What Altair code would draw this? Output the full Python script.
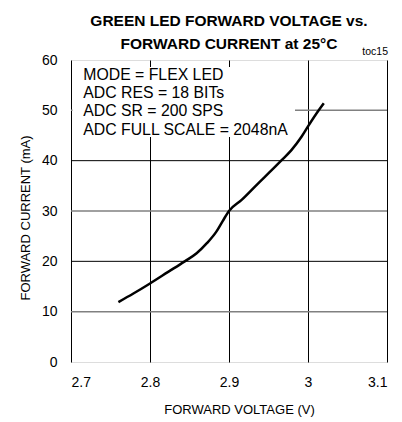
import altair as alt
import pandas as pd

# ---- data ----
voltage = [2.760, 2.779, 2.800, 2.823, 2.844, 2.859, 2.872, 2.884, 2.892, 2.900,
           2.916, 2.937, 2.954, 2.966, 2.979, 2.992, 3.000, 3.014, 3.020]
current = [11.9, 13.6, 15.6, 17.9, 20.0, 21.6, 23.6, 25.9, 28.0, 30.0,
           32.2, 35.5, 38.1, 40.0, 42.1, 44.8, 46.8, 50.1, 51.4]
x_ticks = [2.7, 2.8, 2.9, 3.0, 3.1]
y_ticks = [0, 10, 20, 30, 40, 50, 60]
grid_black_y = [20, 40]
grid_gray_y = [10, 30, 50]
note_lines = ["MODE = FLEX LED", "ADC RES = 18 BITs", "ADC SR = 200 SPS",
              "ADC FULL SCALE = 2048nA"]
title_lines = ["GREEN LED FORWARD VOLTAGE vs.", "FORWARD CURRENT at 25°C"]
tag = "toc15"
x_title = "FORWARD VOLTAGE (V)"
y_title = "FORWARD CURRENT (mA)"

FONT = "Liberation Sans"

curve_df = pd.DataFrame({"V": voltage, "I": current})
xs = alt.Scale(domain=[2.7, 3.1], nice=False, zero=False)
ys = alt.Scale(domain=[0, 60], nice=False, zero=True)

x_axis = alt.Axis(values=x_ticks, format=".1~f", grid=True, gridColor="black",
                  gridWidth=1, gridOpacity=1, ticks=False, domain=False,
                  labelFont=FONT, labelFontSize=14, labelColor="black",
                  labelPadding=13, title=x_title, titleFont=FONT,
                  titleFontSize=13, titleFontWeight="normal", titleColor="black",
                  titleX=168, titleY=47, titleBaseline="middle", titleAlign="center")
y_axis = alt.Axis(values=y_ticks, grid=False, ticks=False, domain=False,
                  labelFont=FONT, labelFontSize=14, labelColor="black",
                  labelPadding=14, title=y_title, titleFont=FONT,
                  titleFontSize=13, titleFontWeight="normal", titleColor="black",
                  titleX=-46, titleY=157.5, titleAngle=270,
                  titleBaseline="middle", titleAlign="center")

gray_rules = alt.Chart(pd.DataFrame({"I": grid_gray_y})).mark_rule(
    color="#808080", strokeWidth=1.5).encode(
    y=alt.Y("I:Q", scale=ys, axis=y_axis))

black_rules = alt.Chart(pd.DataFrame({"I": grid_black_y})).mark_rule(
    color="black", strokeWidth=1).encode(
    y=alt.Y("I:Q", scale=ys, axis=y_axis))

white_box = alt.Chart(pd.DataFrame({"a": [0]})).mark_rect(fill="white").encode(
    x=alt.value(1.5), x2=alt.value(224), y=alt.value(7), y2=alt.value(77))

notes = alt.Chart(pd.DataFrame({"a": [0]})).mark_text(
    text=note_lines, align="left", baseline="middle", font=FONT,
    fontSize=15.8, lineHeight=18.4, color="black").encode(
    x=alt.value(12.3), y=alt.value(14.7))

curve = alt.Chart(curve_df).mark_line(
    color="black", strokeWidth=2.5, interpolate="monotone").encode(
    x=alt.X("V:Q", scale=xs, axis=x_axis),
    y=alt.Y("I:Q", scale=ys, axis=y_axis))

tag_text = alt.Chart(pd.DataFrame({"a": [0]})).mark_text(
    text=tag, align="right", baseline="middle", font=FONT, fontSize=10.5,
    color="black").encode(x=alt.value(317), y=alt.value(-8))

chart = alt.layer(gray_rules, black_rules, white_box, notes, curve, tag_text).properties(
    width=316, height=302,
    padding={"left": 63, "top": 52, "right": 7, "bottom": 60},
    autosize=alt.AutoSizeParams(type="none"),
    title=alt.TitleParams(text=title_lines, font=FONT, fontSize=15.5,
                          fontWeight="bold", lineHeight=23, anchor="middle",
                          offset=9, dy=14, color="black"),
).configure_view(stroke="black", strokeWidth=2).configure(background="white")

chart.save("out.html", embed_options={"renderer": "svg", "actions": False})
